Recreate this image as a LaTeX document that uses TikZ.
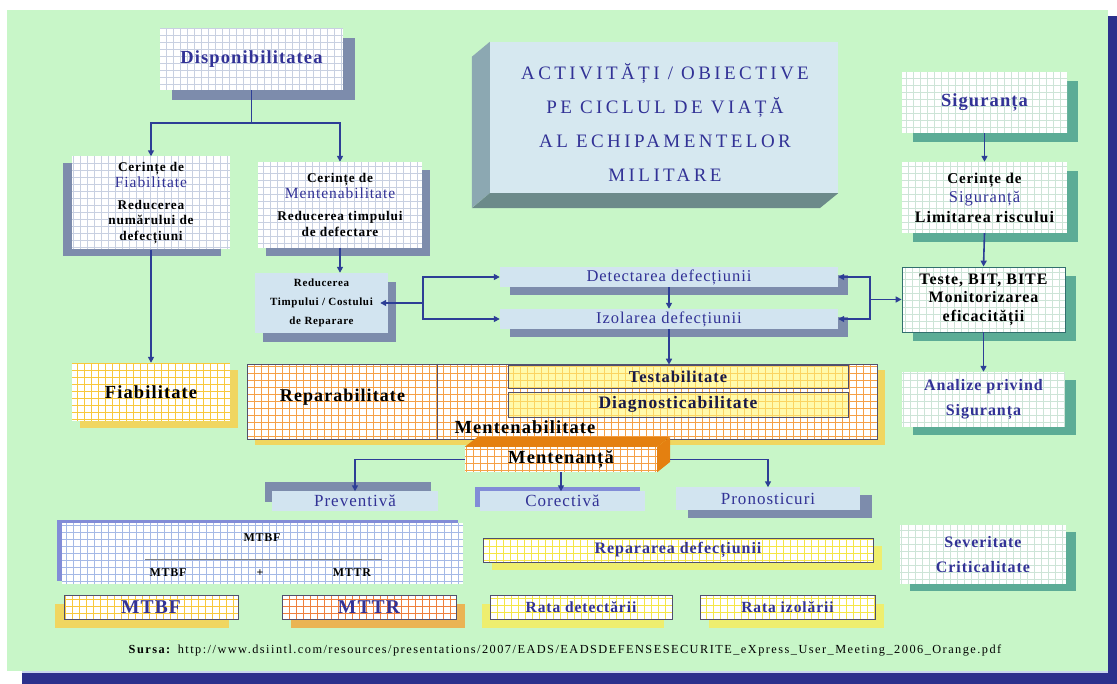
\documentclass[tikz,border=0pt]{standalone}
\usepackage{fontspec}
\setmainfont{Liberation Serif}[LetterSpace=6]
\newfontfamily\titlefont{Liberation Serif}[LetterSpace=18]
\newfontfamily\srcfont{Liberation Serif}[LetterSpace=12]
\usetikzlibrary{arrows.meta}

\definecolor{bggreen}{RGB}{200,246,200}
\definecolor{bandblue}{RGB}{44,48,140}
\definecolor{txtblue}{RGB}{50,50,150}
\definecolor{navytxt}{RGB}{25,25,70}
\definecolor{arrblue}{RGB}{45,62,150}
\definecolor{shgray}{RGB}{125,140,172}
\definecolor{shteal}{RGB}{92,172,150}
\definecolor{shyellow}{RGB}{240,214,96}
\definecolor{shlemon}{RGB}{238,238,110}
\definecolor{shorange}{RGB}{234,180,84}
\definecolor{shviolet}{RGB}{130,140,215}
\definecolor{lightbox}{RGB}{210,228,240}
\definecolor{titleface}{RGB}{214,232,240}
\definecolor{titleside}{RGB}{140,168,178}
\definecolor{titlebottom}{RGB}{108,138,138}
\definecolor{gridgray}{RGB}{200,208,225}
\definecolor{gridgreen}{RGB}{205,228,215}
\definecolor{gridblue}{RGB}{165,185,230}
\definecolor{gridorange}{RGB}{245,160,70}
\definecolor{gridred}{RGB}{238,128,60}
\definecolor{gridyellow}{RGB}{248,200,60}
\definecolor{gridlemon}{RGB}{245,230,70}
\definecolor{mentorange}{RGB}{228,128,16}
\definecolor{edgegray}{RGB}{80,80,110}
\definecolor{edgeteal}{RGB}{50,110,110}

\begin{document}
\begin{tikzpicture}[x=1pt, y=-1pt,
    every node/.style={inner sep=0pt, align=center},
    box/.style 2 args={minimum width=#1, minimum height=#2},
    shad/.style n args={3}{preaction={fill=#1, transform canvas={xshift=#2, yshift=#3}}},
    grd/.style={path picture={\draw[#1, line width=.5pt] (path picture bounding box.south west) grid[step=7pt] (path picture bounding box.north east);}},
    arr/.style={draw=arrblue, line width=1.6pt, -{Triangle[length=6pt, width=6pt]}},
  ]
  \useasboundingbox (0,0) rectangle (1117,684);

  % background
  \fill[white] (0,0) rectangle (1117,684);
  \fill[bandblue] (22,671) rectangle (1117,684);
  \fill[bandblue] (1108,16) rectangle (1117,684);
  \fill[bggreen] (7,10) rectangle (1108,671);
  \fill[gridblue!60] (22,671) rectangle (1108,673);

  % title block
  \node[box={348pt}{151pt}, fill=titleface] (title) at (664,117.5) {};
  \fill[titleside] (title.north west) -- ++(-18,15) -- ++(0,151) -- (title.south west) -- cycle;
  \fill[titlebottom] (title.south west) -- ++(-18,15) -- ++(348,0) -- (title.south east) -- cycle;
  \node[font=\titlefont\fontsize{19}{34}\selectfont, text=txtblue] (ttl) at (665,122.5)
    {ACTIVITĂȚI / OBIECTIVE\\PE CICLUL DE VIAȚĂ\\AL ECHIPAMENTELOR\\MILITARE};

  % availability
  \node[box={183pt}{62pt}, fill=white, grd=gridgray, shad={shgray}{12pt}{-10pt},
        font=\bfseries\fontsize{18.5}{20}\selectfont, text=txtblue] (disp) at (251.5,59) {Disponibilitatea};
  \node[box={158pt}{93pt}, fill=white, grd=gridgray, shad={shgray}{-9pt}{-7pt},
        font=\bfseries\fontsize{13.3}{15.5}\selectfont] (cfiab) at (151,203)
        {Cerințe de\\[1pt]{\mdseries\color{txtblue}\fontsize{15.5}{15}\selectfont Fiabilitate}\\[6pt]Reducerea\\numărului de\\defecțiuni};
  \node[box={164pt}{86pt}, fill=white, grd=gridgray, shad={shgray}{8pt}{-8pt},
        font=\bfseries\fontsize{13.3}{15.5}\selectfont] (cment) at (340,205)
        {Cerințe de\\{\mdseries\color{txtblue}\fontsize{15.5}{15}\selectfont Mentenabilitate}\\[7pt]Reducerea timpului\\de defectare};
  \node[box={158pt}{58pt}, fill=white, grd=gridyellow, shad={shyellow}{8pt}{-7pt},
        font=\bfseries\fontsize{18.5}{18}\selectfont] (fiab) at (151,392) {Fiabilitate};

  % repair time and fault handling
  \node[box={133pt}{60pt}, fill=lightbox, shad={shgray}{8pt}{-9pt},
        font=\bfseries\fontsize{11}{19}\selectfont] (rtc) at (321.5,303) {Reducerea\\Timpului / Costului\\de Reparare};
  \node[box={338pt}{20pt}, fill=lightbox, shad={shgray}{10pt}{-8pt},
        font=\fontsize{16.5}{18}\selectfont, text=txtblue] (det) at (669,277) {Detectarea defecțiunii};
  \node[box={338pt}{20pt}, fill=lightbox, shad={shgray}{10pt}{-8pt},
        font=\fontsize{16.5}{18}\selectfont, text=txtblue] (izo) at (669,319) {Izolarea defecțiunii};

  % safety column
  \node[box={165pt}{61pt}, fill=white, grd=gridgreen, shad={shteal}{11pt}{-9pt},
        font=\bfseries\fontsize{18.5}{20}\selectfont, text=txtblue] (sig) at (984.5,102.5) {Siguranța};
  \node[box={165pt}{71pt}, fill=white, grd=gridgreen, shad={shteal}{11pt}{-9pt},
        font=\bfseries\fontsize{15}{19.5}\selectfont] (csig) at (984.5,197.5)
        {Cerințe de\\{\mdseries\color{txtblue}\fontsize{16.5}{16}\selectfont Siguranță}\\{\fontsize{16}{16}\selectfont Limitarea riscului}};
  \node[box={163pt}{65pt}, fill=white, grd=gridgreen, draw=edgeteal, line width=.8pt, shad={shteal}{11pt}{-9pt},
        font=\bfseries\fontsize{16}{18.5}\selectfont] (teste) at (983.5,299.5) {Teste, BIT, BITE\\Monitorizarea\\eficacității};
  \node[box={163pt}{55pt}, fill=white, grd=gridgreen, shad={shteal}{11pt}{-8pt},
        font=\bfseries\fontsize{16}{25}\selectfont, text=txtblue] (anal) at (983.5,399.5) {Analize privind\\Siguranța};
  \node[box={166pt}{59pt}, fill=white, grd=gridgreen, shad={shteal}{10pt}{-7pt},
        font=\bfseries\fontsize{16}{25}\selectfont, text=txtblue] (sev) at (983,554.5) {Severitate\\Criticalitate};

  % maintainability block
  \node[box={630pt}{75pt}, fill=white, grd=gridorange, draw=edgegray, line width=.6pt, shad={shyellow}{8pt}{-6pt}] (mbox) at (562,401.5) {};
  \draw[edgegray, line width=.6pt] (mbox.north west) ++(191,0) -- ++(0,75);
  \node[box={340pt}{23pt}, fill=yellow!55, fill opacity=.6, text opacity=1, draw=edgegray, line width=.6pt,
        font=\bfseries\fontsize{16.5}{18}\selectfont, text=navytxt] (testab) at (678,376.5) {Testabilitate};
  \node[box={340pt}{25pt}, fill=yellow!55, fill opacity=.6, text opacity=1, draw=edgegray, line width=.6pt,
        font=\bfseries\fontsize{17.5}{18}\selectfont, text=navytxt] (diag) at (678,404.5) {Diagnosticabilitate};
  \node[font=\bfseries\fontsize{18}{18}\selectfont] (rep) at (342.5,397) {Reparabilitate};
  \node[font=\bfseries\fontsize{18.5}{18}\selectfont] (mtxt) at (525,427) {Mentenabilitate};

  % maintenance
  \node[box={192pt}{25pt}, fill=white, grd=gridorange, font=\bfseries\fontsize{18.5}{18}\selectfont] (ment) at (561,459.5) {Mentenanță};
  \fill[mentorange] (ment.north west) -- ++(13,-10) -- ++(192,0) -- (ment.north east) -- cycle;
  \fill[mentorange] (ment.north east) -- ++(13,-10) -- ++(0,25) -- (ment.south east) -- cycle;
  \node[box={166pt}{19pt}, fill=lightbox, shad={shgray}{-7pt}{9pt},
        font=\fontsize{17}{18}\selectfont, text=txtblue] (prev) at (355,501) {Preventivă};
  \node[box={165pt}{19pt}, fill=lightbox, shad={shviolet}{-5pt}{4pt},
        font=\fontsize{17}{18}\selectfont, text=txtblue] (cor) at (562.5,501) {Corectivă};
  \node[box={184pt}{22pt}, fill=lightbox, shad={shgray}{12pt}{-8pt},
        font=\fontsize{17}{18}\selectfont, text=txtblue] (pron) at (768,498.5) {Pronosticuri};

  % availability formula
  \node[box={401pt}{61pt}, fill=white, grd=gridblue, shad={shviolet}{-5pt}{3pt}] (frm) at (262.5,553.5) {};
  \node[font=\bfseries\fontsize{12}{13}\selectfont] (fnum) at (262,538) {MTBF};
  \draw[gray, line width=.8pt] (145,559) -- (382,559);
  \node[font=\bfseries\fontsize{12}{13}\selectfont] (fden1) at (168,573) {MTBF};
  \node[font=\bfseries\fontsize{12}{13}\selectfont] (fplus) at (260,573) {+};
  \node[font=\bfseries\fontsize{12}{13}\selectfont] (fden2) at (352,573) {MTTR};

  % indicators
  \node[box={390pt}{24pt}, fill=white, grd=gridlemon, draw=edgegray, line width=.6pt, shad={shlemon}{9pt}{-8pt},
        font=\bfseries\fontsize{16}{16}\selectfont, text=txtblue] (rrep) at (678,550) {Repararea defecțiunii};
  \node[box={174pt}{24pt}, fill=white, grd=gridyellow, draw=edgegray, line width=.6pt, shad={shyellow}{-9pt}{-9pt},
        font=\bfseries\fontsize{19.5}{20}\selectfont, text=txtblue] (mtbf) at (151,607) {MTBF};
  \node[box={174pt}{24pt}, fill=white, grd=gridred, draw=edgegray, line width=.6pt, shad={shorange}{9pt}{-9pt},
        font=\bfseries\fontsize{19.5}{20}\selectfont, text=txtblue] (mttr) at (369,607) {MTTR};
  \node[box={182pt}{24pt}, fill=white, grd=gridlemon, draw=edgegray, line width=.6pt, shad={shlemon}{-8pt}{-9pt},
        font=\bfseries\fontsize{15.5}{16}\selectfont, text=txtblue] (rdet) at (581,607) {Rata detectării};
  \node[box={175pt}{24pt}, fill=white, grd=gridlemon, draw=edgegray, line width=.6pt, shad={shlemon}{9pt}{-9pt},
        font=\bfseries\fontsize{15.5}{16}\selectfont, text=txtblue] (riz) at (787.5,607) {Rata izolării};

  % source
  \node[font=\srcfont\fontsize{12.3}{14}\selectfont] (src) at (565,650)
    {\textbf{Sursa:} http://www.dsiintl.com/resources/presentations/2007/EADS/EADSDEFENSESECURITE\_eXpress\_User\_Meeting\_2006\_Orange.pdf};

  % connectors
  \draw[arr] (disp.south) -- ++(0,33) -| (cfiab.north);
  \draw[arr] (disp.south) -- ++(0,33) -| (cment.north);
  \draw[arr] (cfiab.south) -- (fiab.north);
  \draw[arr] (cment.south) -- (cment.south |- rtc.north);
  \coordinate (lsplit) at (423,303);
  \draw[arr, shorten >=-8pt] (lsplit) -- (rtc.east);
  \draw[arr] (lsplit) |- (det.west);
  \draw[arr] (lsplit) |- (izo.west);
  \draw[arr] (det.south) -- (izo.north);
  \draw[arr] (izo.south) -- (izo.south |- testab.north);
  \coordinate (rsplit) at (870,299.5);
  \draw[arr] (rsplit) |- (det.east);
  \draw[arr] (rsplit) |- (izo.east);
  \draw[arr] (rsplit) -- (teste.west);
  \draw[arr] (sig.south) -- (csig.north);
  \draw[arr] (csig.south) -- (teste.north);
  \draw[arr] (teste.south) -- (anal.north);
  \draw[arr] (ment.west) -| (prev.north);
  \draw[arr] (ment.south) -- (ment.south |- cor.north);
  \draw[arr, shorten <=13pt] (ment.east) -| (pron.north);
\end{tikzpicture}
\end{document}
